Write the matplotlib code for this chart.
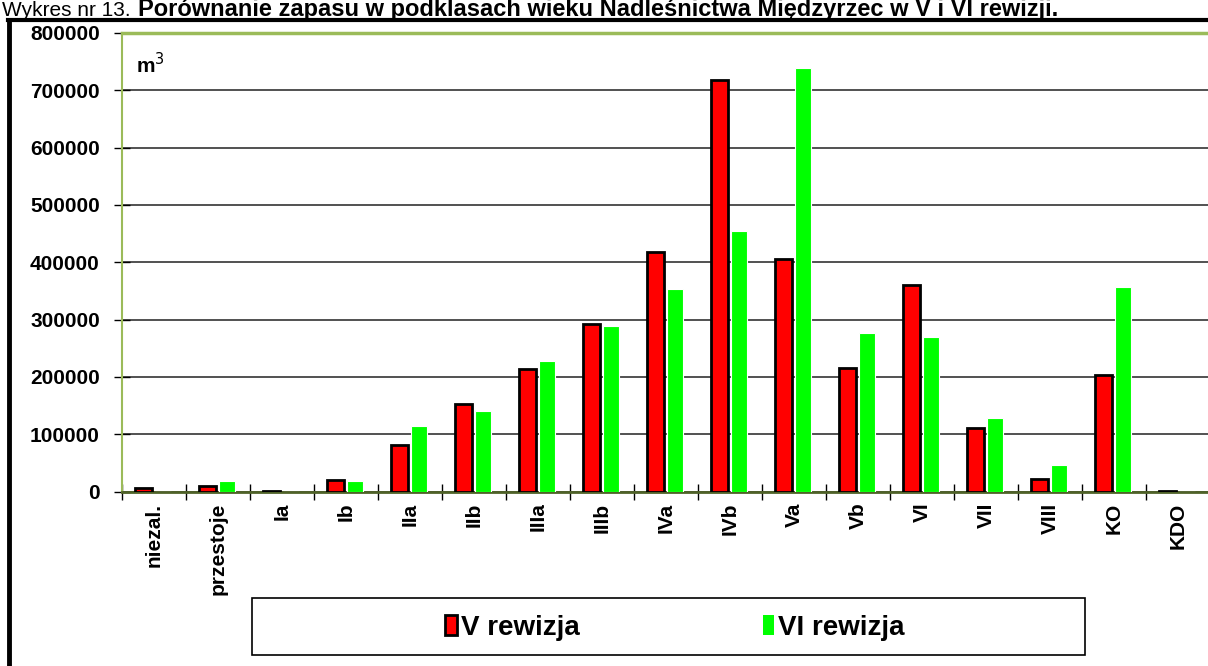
import matplotlib.pyplot as plt
import numpy as np
from matplotlib.patches import Rectangle
from matplotlib.lines import Line2D

plt.rcParams['font.family'] = ['Liberation Sans', 'DejaVu Sans']

# Dane
kategorie = ['niezal.', 'przestoje', 'Ia', 'Ib', 'IIa', 'IIb', 'IIIa', 'IIIb',
             'IVa', 'IVb', 'Va', 'Vb', 'VI', 'VII', 'VIII', 'KO', 'KDO']
rewizja_v = [6000, 9000, 1000, 20500, 80500, 152000, 214000, 291800,
             417800, 718000, 405000, 216000, 361000, 110600, 22300, 203000, 1500]
rewizja_vi = [0, 18800, 0, 18800, 114000, 140000, 227000, 288300,
              353300, 455000, 739000, 277000, 269000, 128000, 46700, 357500, 0]
y_ticks = [0, 100000, 200000, 300000, 400000, 500000, 600000, 700000, 800000]

W, H = 1208, 666
fig = plt.figure(figsize=(W / 100, H / 100), dpi=100)
ax = fig.add_axes([122 / W, 1 - 491.5 / H, 1088 / W, 458.5 / H])

x = np.arange(len(kategorie))
ax.bar(x - 0.16, rewizja_v, width=0.26, color='#ff0000', edgecolor='black',
       linewidth=2, zorder=3)
ax.bar(x + 0.14, rewizja_vi, width=0.24, color='#00ff00', edgecolor='white',
       linewidth=0.8, zorder=3)

ax.set_xlim(-0.5, len(kategorie) - 0.5)
ax.set_ylim(0, 800000)
ax.set_yticks(y_ticks)
ax.set_yticklabels([str(v) for v in y_ticks], fontsize=15, fontweight='bold')
ax.yaxis.grid(True, color='#222222', linewidth=1.1, zorder=0)
ax.set_axisbelow(True)

# znaczniki osi x na granicach kategorii, etykiety w srodku
ax.set_xticks(np.arange(len(kategorie) + 1) - 0.5)
ax.set_xticklabels([])
ax.set_xticks(x, minor=True)
ax.set_xticklabels(kategorie, minor=True, rotation=90, fontsize=15,
                   fontweight='bold')
ax.tick_params(axis='x', which='minor', length=0, pad=8)
ax.tick_params(axis='x', which='major', direction='inout', length=12, width=1)
ax.tick_params(axis='y', direction='inout', length=12, width=1, pad=10)

ax.spines['right'].set_visible(False)
ax.spines['top'].set_color('#9bbb59')
ax.spines['top'].set_linewidth(2.5)
ax.spines['left'].set_color('#9bbb59')
ax.spines['left'].set_linewidth(1.5)
ax.spines['bottom'].set_color('#4f6228')
ax.spines['bottom'].set_linewidth(2)

ax.text(0.013, 0.958, 'm$^3$', transform=ax.transAxes, fontsize=15,
        fontweight='bold', va='top')

# legenda
fig.patches.append(Rectangle((252 / W, 1 - 655 / H), 833 / W, 57 / H,
                             transform=fig.transFigure, facecolor='white',
                             edgecolor='black', linewidth=1.2))
uchwyty = [Rectangle((0, 0), 1, 1, facecolor='#ff0000', edgecolor='black', linewidth=2),
           Rectangle((0, 0), 1, 1, facecolor='#00ff00', edgecolor='none')]
fig.legend(uchwyty, ['V rewizja', 'VI rewizja'], ncol=2, frameon=False,
           loc='center', bbox_to_anchor=(675 / W, 1 - 628 / H),
           prop={'size': 20, 'weight': 'bold'}, handlelength=0.4,
           handleheight=0.75, handletextpad=0.15, columnspacing=6.6)

# ramka rysunku
fig.add_artist(Line2D([8 / W, 1], [1 - 20 / H, 1 - 20 / H], color='black',
                      linewidth=3, transform=fig.transFigure))
fig.add_artist(Line2D([9 / W, 9 / W], [0, 1 - 20 / H], color='black',
                      linewidth=3.5, transform=fig.transFigure))

# tytul
fig.text(2 / W, 1 - 16 / H, 'Wykres nr 13. ', fontsize=15, va='baseline')
fig.text(138 / W, 1 - 16 / H,
         'Porównanie zapasu w podklasach wieku Nadleśnictwa Międzyrzec w V i VI rewizji.',
         fontsize=17, fontweight='bold', va='baseline')

fig.savefig('out.png', dpi=100)
